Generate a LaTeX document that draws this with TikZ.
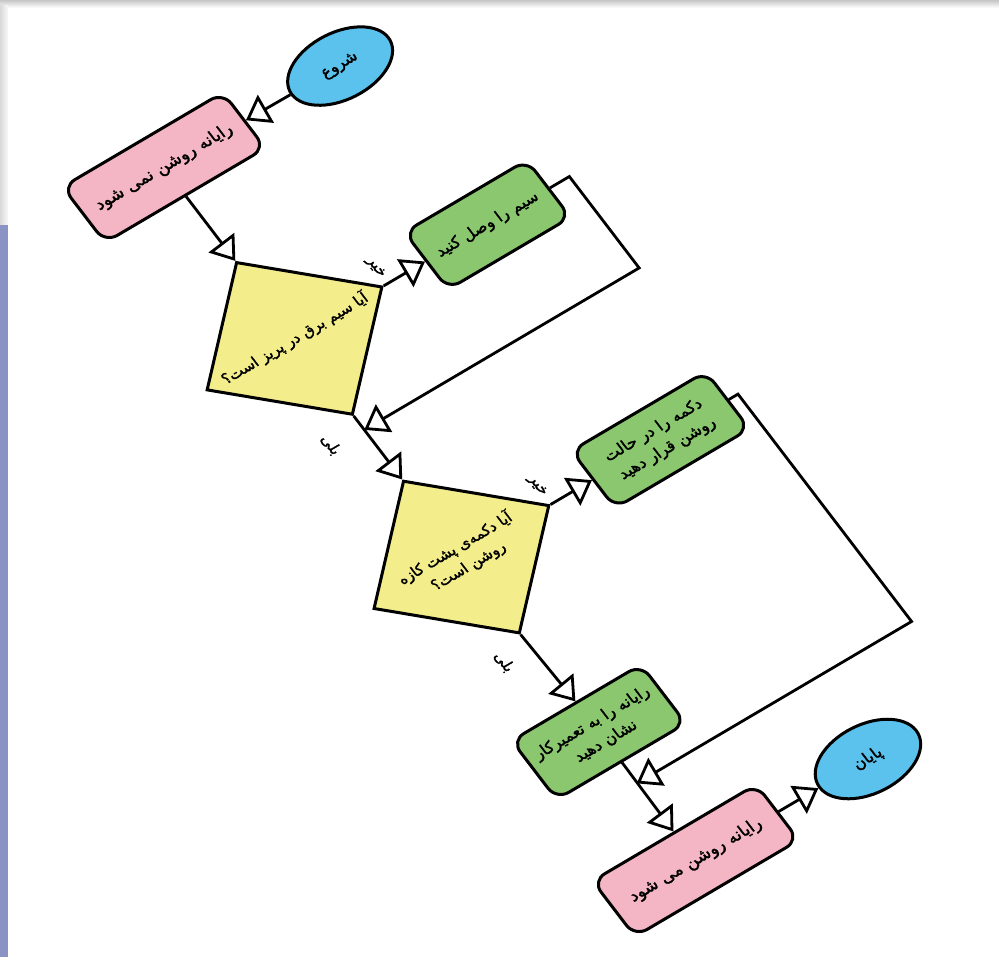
\documentclass[tikz,border=0pt]{standalone}
\usepackage{fontspec}
\usetikzlibrary{arrows.meta,shapes.geometric}
\newfontfamily\fa[Script=Arabic, FakeBold=1.6]{DejaVu Sans}
\TeXXeTstate=1
\newcommand{\fatxt}[1]{\beginR #1\endR}
\definecolor{pinkc}{RGB}{244,182,196}
\definecolor{greenc}{RGB}{138,199,110}
\definecolor{yellowc}{RGB}{243,237,140}
\definecolor{bluec}{RGB}{90,194,236}
\definecolor{bandc}{RGB}{139,147,196}
\tikzset{
 base/.style={draw=black, line width=3pt, font=\fa\fontsize{16}{23}\selectfont, align=center, inner sep=2pt},
 pinkbox/.style={base, rounded corners=14pt, fill=pinkc, minimum width=186pt, minimum height=70pt, font=\fa\fontsize{17}{22}\selectfont},
 greenbox/.style={base, rounded corners=14pt, fill=greenc, minimum height=72pt},
 dia/.style={base, diamond, fill=yellowc, minimum width=204pt, minimum height=192pt, inner sep=0pt, font=\fa\fontsize{15}{22}\selectfont},
 term/.style={base, ellipse, fill=bluec, minimum width=112pt, minimum height=68pt},
 flow/.style={line width=2.8pt, -{Triangle[length=23pt,width=32pt,fill=white]}},
 lbl/.style={font=\fa\fontsize{15}{17}\selectfont, rotate=-90, inner sep=1pt}
}
\begin{document}
\begin{tikzpicture}[x=1pt,y=1pt]
\useasboundingbox (0,0) rectangle (999,-957);
\fill[white] (0,0) rectangle (999,-957);
\shade[top color=gray!45, bottom color=white] (0,0) rectangle (999,-8);
\shade[left color=gray!30, right color=gray!5] (0,-6) rectangle (8,-225);
\fill[bandc] (0,-225) rectangle (8,-957);
\begin{scope}[cm={0.8616,0.5075,-0.607,0.795,(164pt,-167.5pt)}, transform shape]
 \node[pinkbox] (pinkA) at (0,0) {\fatxt{رایانه روشن نمی شود}};
 \node[term] (start) at (203,-2) {\fatxt{شروع}};
 \node[dia] (dA) at (0,-215) {\fatxt{آیا سیم برق در پریز است؟}};
 \node[greenbox, minimum width=142pt] (greenA) at (224,-215) {\fatxt{سیم را وصل کنید}};
 \node[dia] (dB) at (0,-490) {\fatxt{آیا دکمه‌ی پشت کازه}\\\fatxt{روشن است؟}};
 \node[greenbox, minimum width=156pt] (greenB) at (231,-490) {\fatxt{دکمه را در حالت}\\\fatxt{روشن قرار دهید}};
 \node[greenbox, minimum width=150pt, minimum height=74pt] (greenC) at (3,-712) {\fatxt{رایانه را به تعمیرکار}\\\fatxt{نشان دهید}};
 \node[pinkbox, minimum width=190pt] (pinkB) at (2,-873) {\fatxt{رایانه روشن می شود}};
 \node[term, minimum height=70pt] (fin) at (202,-873) {\fatxt{پایان}};
 \node[lbl] (noA) at (108,-195) {\fatxt{خیر}};
 \node[lbl] (noB) at (104,-467) {\fatxt{خیر}};
 \node[lbl] (yesA) at (-36,-326) {\fatxt{بلی}};
 \node[lbl] (yesB) at (-30,-603) {\fatxt{بلی}};
 \coordinate (jA) at (0,-330);
 \coordinate (cA1) at (319,-215);
 \coordinate (cA2) at (319,-330);
 \coordinate (jB) at (2,-776);
 \coordinate (cB1) at (321,-490);
 \coordinate (cB2) at (321,-776);
 \draw[flow] (start) -- (pinkA);
 \draw[flow] (pinkA) -- (dA.north);
 \draw[flow] (dA.east) -- (greenA.west);
 \draw[flow] (greenA.east) -- (cA1) -- (cA2) -- (jA);
 \draw[flow] (dA.south) -- (dB.north);
 \draw[flow] (dB.east) -- (greenB.west);
 \draw[flow] (greenB.east) -- (cB1) -- (cB2) -- (jB);
 \draw[flow] (dB.south) -- (greenC.north);
 \draw[flow] (greenC.south) -- (pinkB.north);
 \draw[flow] (pinkB) -- (fin);
\end{scope}
\end{tikzpicture}
\end{document}
